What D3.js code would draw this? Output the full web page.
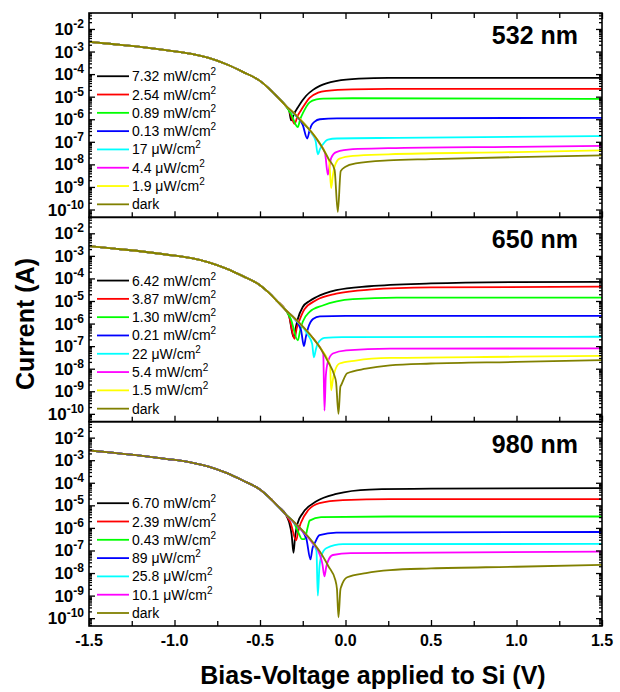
<!DOCTYPE html>
<html>
<head>
<meta charset="utf-8">
<script src="https://cdn.jsdelivr.net/npm/d3@7"></script>
<style>
  body { margin: 0; background: #fff; }
  svg { font-family: Arial, "Liberation Sans", sans-serif; }
</style>
</head>
<body>
<svg width="620" height="692"></svg>
<script>
// ----- data (current in A vs bias in V) -----

// reverse-bias branch: all curves of all three panels lie on top of each other here
var reverseBranch = [[-1.5, 2.7e-3], [-1.35, 2.1e-3], [-1.2, 1.6e-3], [-1.05, 1.15e-3], [-0.9, 7.9e-4],
  [-0.8, 5.2e-4], [-0.7, 2.8e-4], [-0.6, 1.26e-4], [-0.5, 5.0e-5], [-0.45, 2.4e-5], [-0.4, 1.0e-5], [-0.35, 4.0e-6]];

var xTickValues = [-1.5, -1.0, -0.5, 0.0, 0.5, 1.0, 1.5];
var xTickLabels = ["-1.5", "-1.0", "-0.5", "0.0", "0.5", "1.0", "1.5"];
var xMinorTicks = [-1.25, -0.75, -0.25, 0.25, 0.75, 1.25];
var yExponents = [-2, -3, -4, -5, -6, -7, -8, -9, -10];

var titles = ["532 nm", "650 nm", "980 nm"];

// 532 nm
var labels532 = ["7.32 mW/cm^2", "2.54 mW/cm^2", "0.89 mW/cm^2", "0.13 mW/cm^2", "17 \u03bcW/cm^2", "4.4 \u03bcW/cm^2", "1.9 \u03bcW/cm^2", "dark"];
var colors532 = ["#000000", "#ff0000", "#00ff00", "#0000ff", "#00ffff", "#ff00ff", "#ffff00", "#808000"];
var tails532 = [
  [[-0.33, 2.5e-6], [-0.318, 8.9e-7], [-0.30, 1.8e-6], [-0.28, 3.2e-6], [-0.25, 7.1e-6], [-0.23, 1.1e-5], [-0.19, 2.0e-5], [-0.15, 3.0e-5], [-0.05, 5.0e-5], [0.08, 6.3e-5], [0.25, 6.8e-5], [1.5, 6.8e-5]],
  [[-0.33, 2.5e-6], [-0.298, 6.3e-7], [-0.28, 1.4e-6], [-0.26, 2.5e-6], [-0.21, 8.9e-6], [-0.16, 1.5e-5], [-0.11, 1.8e-5], [0.04, 2.1e-5], [0.25, 2.2e-5], [1.5, 2.2e-5]],
  [[-0.32, 1.8e-6], [-0.279, 4.5e-7], [-0.265, 1.0e-6], [-0.25, 1.8e-6], [-0.21, 5.6e-6], [-0.17, 7.6e-6], [-0.13, 8.2e-6], [0.04, 8.5e-6], [1.5, 8.0e-6]],
  [[-0.3, 1.66e-6], [-0.25, 5.6e-7], [-0.224, 1.4e-7], [-0.21, 3.2e-7], [-0.2, 5.2e-7], [-0.18, 7.9e-7], [-0.15, 1.0e-6], [-0.05, 1.1e-6], [1.5, 1.15e-6]],
  [[-0.3, 1.7e-6], [-0.2, 2.5e-7], [-0.175, 1.1e-7], [-0.162, 2.8e-8], [-0.148, 5.0e-8], [-0.133, 7.6e-8], [-0.103, 1.26e-7], [-0.05, 1.4e-7], [0.3, 1.5e-7], [1.5, 1.8e-7]],
  [[-0.3, 1.8e-6], [-0.2, 2.7e-7], [-0.15, 7.9e-8], [-0.12, 3.2e-8], [-0.103, 3.5e-9], [-0.092, 1.0e-8], [-0.084, 1.9e-8], [-0.054, 3.5e-8], [0.043, 4.7e-8], [0.25, 5.2e-8], [1.0, 6.0e-8], [1.5, 6.6e-8]],
  [[-0.3, 1.8e-6], [-0.2, 2.8e-7], [-0.15, 8.5e-8], [-0.11, 2.5e-8], [-0.095, 1.26e-8], [-0.084, 8.9e-10], [-0.074, 3.2e-9], [-0.064, 7.9e-9], [-0.035, 1.8e-8], [0.043, 2.4e-8], [0.25, 2.8e-8], [1.0, 3.5e-8], [1.5, 4.2e-8]],
  [[-0.3, 1.8e-6], [-0.25, 7.1e-7], [-0.2, 2.8e-7], [-0.15, 8.5e-8], [-0.1, 1.8e-8], [-0.064, 5.8e-9], [-0.045, 7.9e-11], [-0.028, 5.0e-9], [0.0, 7.9e-9], [0.06, 1.1e-8], [0.25, 1.5e-8], [0.5, 1.7e-8], [1.0, 2.1e-8], [1.5, 2.5e-8]]
];

// 650 nm
var labels650 = ["6.42 mW/cm^2", "3.87 mW/cm^2", "1.30 mW/cm^2", "0.21 mW/cm^2", "22 \u03bcW/cm^2", "5.4 mW/cm^2", "1.5 mW/cm^2", "dark"];
var colors650 = ["#000000", "#ff0000", "#00ff00", "#0000ff", "#00ffff", "#ff00ff", "#ffff00", "#808000"];
var tails650 = [
  [[-0.33, 2.2e-6], [-0.304, 2.5e-7], [-0.29, 7.1e-7], [-0.279, 1.6e-6], [-0.25, 5.4e-6], [-0.21, 1.0e-5], [-0.17, 1.5e-5], [-0.054, 3.0e-5], [0.14, 4.5e-5], [0.5, 6.0e-5], [1.0, 6.9e-5], [1.5, 7.1e-5]],
  [[-0.33, 2.2e-6], [-0.298, 2.1e-7], [-0.285, 6.3e-7], [-0.269, 1.4e-6], [-0.24, 4.3e-6], [-0.17, 1.1e-5], [-0.054, 2.1e-5], [0.14, 3.2e-5], [0.5, 4.0e-5], [1.5, 4.3e-5]],
  [[-0.32, 1.6e-6], [-0.279, 1.8e-7], [-0.265, 5.0e-7], [-0.25, 1.2e-6], [-0.21, 3.3e-6], [-0.133, 6.3e-6], [0.043, 1.2e-5], [0.3, 1.4e-5], [1.5, 1.4e-5]],
  [[-0.3, 1.7e-6], [-0.26, 5.0e-7], [-0.243, 1.0e-7], [-0.232, 2.5e-7], [-0.22, 5.9e-7], [-0.19, 1.6e-6], [-0.15, 2.1e-6], [0.0, 2.2e-6], [1.5, 2.2e-6]],
  [[-0.3, 1.7e-6], [-0.22, 3.2e-7], [-0.195, 1.26e-7], [-0.185, 3.2e-8], [-0.172, 7.9e-8], [-0.162, 1.3e-7], [-0.123, 2.3e-7], [-0.02, 2.5e-7], [1.5, 2.6e-7]],
  [[-0.3, 1.8e-6], [-0.2, 2.8e-7], [-0.15, 8.9e-8], [-0.13, 4.5e-8], [-0.123, 1.4e-10], [-0.115, 5.0e-9], [-0.103, 2.0e-8], [-0.074, 4.7e-8], [0.004, 6.5e-8], [0.26, 7.8e-8], [1.5, 7.9e-8]],
  [[-0.3, 1.8e-6], [-0.2, 2.8e-7], [-0.15, 8.9e-8], [-0.1, 2.2e-8], [-0.09, 1.4e-8], [-0.084, 1.1e-9], [-0.074, 3.2e-9], [-0.064, 7.1e-9], [-0.035, 1.7e-8], [0.06, 2.3e-8], [0.26, 3.0e-8], [1.0, 3.4e-8], [1.5, 3.7e-8]],
  [[-0.3, 1.8e-6], [-0.2, 2.8e-7], [-0.15, 8.9e-8], [-0.1, 1.9e-8], [-0.065, 5.0e-9], [-0.055, 2.5e-9], [-0.041, 1.0e-10], [-0.03, 1.6e-9], [-0.025, 1.9e-9], [0.01, 6.3e-9], [0.12, 1.0e-8], [0.26, 1.4e-8], [0.5, 1.7e-8], [1.0, 2.0e-8], [1.5, 2.4e-8]]
];

// 980 nm
var labels980 = ["6.70 mW/cm^2", "2.39 mW/cm^2", "0.43 mW/cm^2", "89 \u03bcW/cm^2", "25.8 \u03bcW/cm^2", "10.1 \u03bcW/cm^2", "dark"];
var colors980 = ["#000000", "#ff0000", "#00ff00", "#0000ff", "#00ffff", "#ff00ff", "#808000"];
var tails980 = [
  [[-0.33, 1.8e-6], [-0.315, 5.0e-7], [-0.304, 7.9e-8], [-0.295, 4.0e-7], [-0.28, 1.6e-6], [-0.25, 4.5e-6], [-0.17, 1.5e-5], [-0.054, 3.2e-5], [0.14, 5.0e-5], [0.5, 5.5e-5], [1.5, 5.8e-5]],
  [[-0.32, 1.6e-6], [-0.289, 2.8e-7], [-0.275, 7.9e-7], [-0.262, 1.6e-6], [-0.22, 5.9e-6], [-0.152, 1.26e-5], [-0.015, 1.7e-5], [0.26, 1.9e-5], [1.5, 1.9e-5]],
  [[-0.3, 1.6e-6], [-0.27, 5.0e-7], [-0.255, 3.2e-7], [-0.24, 3.2e-7], [-0.22, 1.15e-6], [-0.21, 2.1e-6], [-0.143, 3.0e-6], [0.26, 3.2e-6], [1.5, 3.2e-6]],
  [[-0.3, 1.7e-6], [-0.23, 3.5e-7], [-0.205, 4.0e-8], [-0.193, 1.26e-7], [-0.18, 2.1e-7], [-0.152, 4.8e-7], [-0.054, 6.2e-7], [1.5, 6.6e-7]],
  [[-0.3, 1.7e-6], [-0.2, 2.5e-7], [-0.17, 1.0e-7], [-0.162, 1.0e-9], [-0.153, 1.6e-8], [-0.143, 5.2e-8], [-0.113, 1.26e-7], [-0.015, 1.9e-7], [1.5, 1.95e-7]],
  [[-0.3, 1.7e-6], [-0.2, 2.5e-7], [-0.15, 6.3e-8], [-0.135, 2.5e-8], [-0.123, 7.1e-9], [-0.113, 1.8e-8], [-0.103, 3.3e-8], [-0.074, 6.3e-8], [0.03, 7.6e-8], [1.5, 8.9e-8]],
  [[-0.3, 1.8e-6], [-0.2, 2.8e-7], [-0.15, 8.9e-8], [-0.1, 2.0e-8], [-0.06, 5.0e-9], [-0.05, 2.0e-9], [-0.041, 1.1e-10], [-0.03, 1.8e-9], [-0.025, 2.5e-9], [0.01, 6.5e-9], [0.12, 1.0e-8], [0.26, 1.35e-8], [0.5, 1.6e-8], [1.0, 1.9e-8], [1.5, 2.3e-8]]
];

// ----- layout -----
var svg = d3.select("svg");
var left = 89, right = 602, top0 = 13, bottom0 = 626;
var panelH = (bottom0 - top0) / 3;

var x = d3.scaleLinear().domain([-1.5, 1.5]).range([left, right]);

var panels = [
  {title: titles[0], labels: labels532, colors: colors532, tails: tails532},
  {title: titles[1], labels: labels650, colors: colors650, tails: tails650},
  {title: titles[2], labels: labels980, colors: colors980, tails: tails980}
];

var yMajor = yExponents.map(function(e) { return Math.pow(10, e); });
var yMinor = [];
for (var e = -11; e <= -2; e++) {
  for (var m = 2; m <= 9; m++) yMinor.push(m * Math.pow(10, e));
}

panels.forEach(function(p, k) {
  var top = top0 + k * panelH, bot = top + panelH;
  var y = d3.scaleLog().domain([4.5e-11, 5.1e-2]).range([bot, top]);
  var minor = yMinor.filter(function(v) { return v > 4.5e-11 && v < 5.1e-2; });

  var g = svg.append("g");

  g.append("clipPath").attr("id", "clip" + k)
    .append("rect").attr("x", left).attr("y", top).attr("width", right - left).attr("height", panelH);

  // curves
  var line = d3.line()
    .x(function(d) { return x(d[0]); })
    .y(function(d) { return y(d[1]); })
    .curve(d3.curveMonotoneX);

  g.append("g").attr("clip-path", "url(#clip" + k + ")")
    .selectAll("path")
    .data(p.tails)
    .enter()
    .append("path")
    .attr("d", function(t) { return line(reverseBranch.concat(t)); })
    .attr("fill", "none")
    .attr("stroke", function(d, i) { return p.colors[i]; })
    .attr("stroke-width", 1.8)
    .attr("stroke-linejoin", "round");

  // ticks (all pointing inward)
  function addAxis(axis, tx, ty) {
    var a = g.append("g").attr("transform", "translate(" + tx + "," + ty + ")").call(axis);
    a.select(".domain").remove();
    a.selectAll("line").attr("stroke", "#000").attr("stroke-width", 1.3);
    return a;
  }
  addAxis(d3.axisLeft(y).tickValues(yMajor).tickSize(-6).tickFormat(""), left, 0);
  addAxis(d3.axisLeft(y).tickValues(minor).tickSize(-3).tickFormat(""), left, 0);
  addAxis(d3.axisRight(y).tickValues(yMajor).tickSize(-6).tickFormat(""), right, 0);
  addAxis(d3.axisRight(y).tickValues(minor).tickSize(-3).tickFormat(""), right, 0);
  addAxis(d3.axisBottom(x).tickValues(xTickValues).tickSize(-6).tickFormat(""), 0, bot);
  addAxis(d3.axisBottom(x).tickValues(xMinorTicks).tickSize(-5).tickFormat(""), 0, bot);
  if (k === 0) {
    addAxis(d3.axisTop(x).tickValues(xTickValues).tickSize(-6).tickFormat(""), 0, top);
    addAxis(d3.axisTop(x).tickValues(xMinorTicks).tickSize(-5).tickFormat(""), 0, top);
  }

  // frame
  g.append("rect")
    .attr("x", left).attr("y", top).attr("width", right - left).attr("height", panelH)
    .attr("fill", "none").attr("stroke", "#000").attr("stroke-width", 1.6);

  // y tick labels 10^n
  var yl = g.selectAll("text.ylab")
    .data(yExponents)
    .enter()
    .append("text")
    .attr("class", "ylab")
    .attr("x", left - 5)
    .attr("y", function(d) { return y(Math.pow(10, d)) + 6; })
    .attr("text-anchor", "end")
    .attr("font-weight", "bold");
  yl.append("tspan").attr("font-size", 17).text("10");
  yl.append("tspan").attr("font-size", 12).attr("dy", -7).text(function(d) { return String(d); });

  // panel title
  g.append("text")
    .attr("x", 578).attr("y", top + 31)
    .attr("text-anchor", "end")
    .attr("font-size", 25).attr("font-weight", "bold")
    .text(p.title);

  // legend, anchored to the bottom of the panel
  var n = p.labels.length;
  var rows = g.selectAll("g.leg")
    .data(p.labels)
    .enter()
    .append("g")
    .attr("class", "leg")
    .attr("transform", function(d, i) { return "translate(0," + (bot - 13 - (n - 1 - i) * 18.3) + ")"; });
  rows.append("line")
    .attr("x1", 97).attr("x2", 129)
    .attr("stroke", function(d, i) { return p.colors[i]; })
    .attr("stroke-width", 1.8);
  var lt = rows.append("text").attr("x", 132).attr("y", 5).attr("font-size", 14);
  lt.append("tspan").text(function(d) { return d.split("^")[0]; });
  lt.append("tspan").attr("font-size", 10).attr("dy", -6)
    .text(function(d) { return d.split("^")[1] || ""; });

  if (k === 2) {
    g.selectAll("text.xlab")
      .data(xTickValues)
      .enter()
      .append("text")
      .attr("x", function(d) { return x(d); })
      .attr("y", bot + 20)
      .attr("text-anchor", "middle")
      .attr("font-size", 16).attr("font-weight", "bold")
      .text(function(d, i) { return xTickLabels[i]; });
  }
});

// axis titles
svg.append("text")
  .attr("x", 373).attr("y", 684)
  .attr("text-anchor", "middle")
  .attr("font-size", 25).attr("font-weight", "bold")
  .text("Bias-Voltage applied to Si (V)");

svg.append("text")
  .attr("transform", "translate(34,324) rotate(-90)")
  .attr("text-anchor", "middle")
  .attr("font-size", 25).attr("font-weight", "bold")
  .text("Current (A)");
</script>
</body>
</html>
